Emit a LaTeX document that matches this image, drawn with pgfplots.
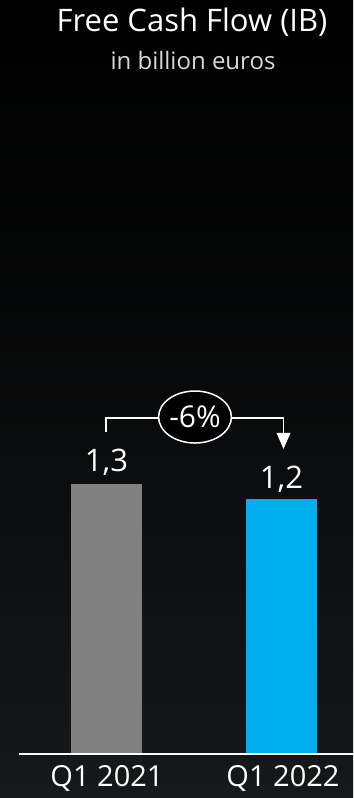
\documentclass[border=0pt]{standalone}
\usepackage{pgfplots}
\pgfplotsset{compat=1.18}
\usepackage{fontspec}
\setmainfont{Open Sans}
\usetikzlibrary{shapes.geometric,arrows.meta}
\definecolor{barGray}{HTML}{808080}
\definecolor{barBlue}{HTML}{00ADEF}
\definecolor{bgTop}{HTML}{000000}
\definecolor{bgBot}{HTML}{16181A}
\definecolor{subGray}{HTML}{D8D8D8}
\begin{document}
\begin{tikzpicture}
\begin{axis}[
  width=353pt, height=798pt, scale only axis,
  xmin=0, xmax=353, ymin=-0.2070, ymax=3.5466,
  hide axis, clip=false,
  axis background/.style={top color=bgTop, bottom color=bgBot, middle color=bgTop!60!bgBot, draw=none},
  ybar, bar width=71, bar shift=0pt,
]
\addplot[fill=barGray, draw=none] coordinates {(106.5,1.27)};
\addplot[fill=barBlue, draw=none] coordinates {(281.5,1.20)};
% baseline
\draw[white, line width=1.6pt] (axis cs:19,0) -- (axis cs:353,0);
% value labels
\node[white, font=\fontsize{31}{33}\selectfont] at (axis cs:106.5,1.373) {1,3};
\node[white, font=\fontsize{31}{33}\selectfont] at (axis cs:281.5,1.293) {1,2};
% category labels
\node[white, font=\fontsize{29}{31}\selectfont] at (axis cs:107,-0.113) {Q1 2021};
\node[white, font=\fontsize{29}{31}\selectfont] at (axis cs:283,-0.113) {Q1 2022};
% title
\node[white, font=\fontsize{31}{33}\selectfont] at (axis cs:192,3.443) {Free Cash Flow (IB)};
\node[subGray, font=\fontsize{24}{26}\selectfont] at (axis cs:193,3.264) {in billion euros};
% change bracket
\draw[white, line width=1.5pt] (axis cs:106,1.515) -- (axis cs:106,1.580) -- (axis cs:283.5,1.580) -- (axis cs:283.5,1.50);
\fill[white] (axis cs:276.5,1.510) -- (axis cs:290.5,1.510) -- (axis cs:283.5,1.435) -- cycle;
\node[ellipse, draw=white, line width=1.5pt, fill=black, minimum width=71pt, minimum height=52pt, inner sep=0pt, text=white, font=\fontsize{30}{32}\selectfont] at (axis cs:195,1.585) {-6\%};
\end{axis}
\end{tikzpicture}
\end{document}
